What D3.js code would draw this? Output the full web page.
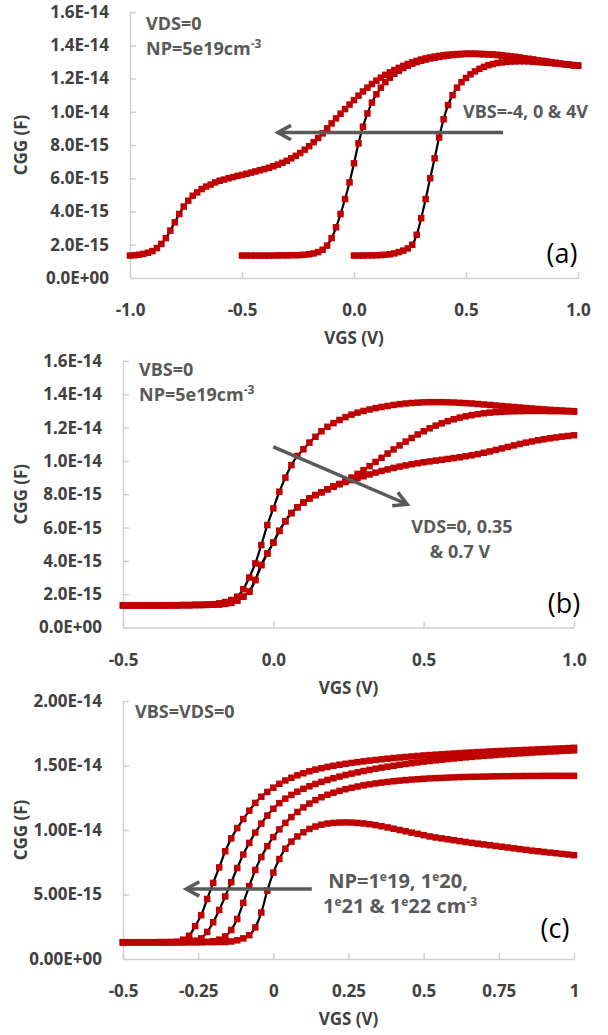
<!DOCTYPE html>
<html>
<head>
<meta charset="utf-8">
<script src="https://cdn.jsdelivr.net/npm/d3@7"></script>
<style>
  body { margin: 0; background: #fff; }
  text { font-family: "Open Sans", sans-serif; }
</style>
</head>
<body>
<svg id="chart"></svg>
<script>
// ---- data (CGG in fF, VGS in V) ----
const vgsA = [
  -1.00,-0.98,-0.96,-0.94,-0.92,-0.90,-0.88,-0.86,-0.84,-0.82,
  -0.80,-0.78,-0.76,-0.74,-0.72,-0.70,-0.68,-0.66,-0.64,-0.62,
  -0.60,-0.58,-0.56,-0.54,-0.52,-0.50,-0.48,-0.46,-0.44,-0.42,
  -0.40,-0.38,-0.36,-0.34,-0.32,-0.30,-0.28,-0.26,-0.24,-0.22,
  -0.20,-0.18,-0.16,-0.14,-0.12,-0.10,-0.08,-0.06,-0.04,-0.02,
  0.00,0.02,0.04,0.06,0.08,0.10,0.12,0.14,0.16,0.18,
  0.20,0.22,0.24,0.26,0.28,0.30,0.32,0.34,0.36,0.38,
  0.40,0.42,0.44,0.46,0.48,0.50,0.52,0.54,0.56,0.58,
  0.60,0.62,0.64,0.66,0.68,0.70,0.72,0.74,0.76,0.78,
  0.80,0.82,0.84,0.86,0.88,0.90,0.92,0.94,0.96,0.98,
  1.00];

const vgsBC = [
  -0.50,-0.48,-0.46,-0.44,-0.42,-0.40,-0.38,-0.36,-0.34,-0.32,
  -0.30,-0.28,-0.26,-0.24,-0.22,-0.20,-0.18,-0.16,-0.14,-0.12,
  -0.10,-0.08,-0.06,-0.04,-0.02,0.00,0.02,0.04,0.06,0.08,
  0.10,0.12,0.14,0.16,0.18,0.20,0.22,0.24,0.26,0.28,
  0.30,0.32,0.34,0.36,0.38,0.40,0.42,0.44,0.46,0.48,
  0.50,0.52,0.54,0.56,0.58,0.60,0.62,0.64,0.66,0.68,
  0.70,0.72,0.74,0.76,0.78,0.80,0.82,0.84,0.86,0.88,
  0.90,0.92,0.94,0.96,0.98,1.00];

// panel (a): VBS = 4, 0, -4 V (sweeps start at -1.0, -0.5 and 0.0 V)
const cggA1 = [
  1.35,1.37,1.40,1.45,1.52,1.62,1.80,2.05,2.40,2.85,
  3.35,3.85,4.30,4.65,4.95,5.15,5.35,5.50,5.62,5.75,
  5.85,5.92,6.00,6.07,6.14,6.20,6.27,6.34,6.41,6.48,
  6.55,6.63,6.72,6.82,6.93,7.05,7.20,7.35,7.52,7.72,
  7.93,8.17,8.42,8.70,9.00,9.30,9.60,9.88,10.16,10.43,
  10.70,10.97,11.22,11.45,11.67,11.87,12.05,12.22,12.37,12.51,
  12.64,12.76,12.87,12.97,13.06,13.14,13.21,13.27,13.32,13.36,
  13.40,13.43,13.45,13.47,13.48,13.49,13.49,13.49,13.48,13.47,
  13.46,13.44,13.42,13.39,13.36,13.33,13.30,13.26,13.22,13.18,
  13.14,13.10,13.06,13.02,12.98,12.94,12.90,12.86,12.83,12.80,
  12.77];
const cggA2 = [
  1.35,1.35,1.35,1.35,1.35,1.35,1.35,1.35,1.36,1.36,
  1.36,1.37,1.37,1.38,1.40,1.43,1.48,1.56,1.70,1.95,
  2.40,3.05,3.85,4.75,5.75,6.90,8.10,9.10,9.90,10.55,
  11.05,11.45,11.78,12.05,12.28,12.47,12.63,12.77,12.89,12.99,
  13.07,13.14,13.20,13.25,13.30,13.34,13.38,13.41,13.44,13.46,
  13.48,13.48,13.48,13.47,13.46,13.45,13.43,13.41,13.38,13.35,
  13.32,13.29,13.25,13.21,13.17,13.13,13.09,13.05,13.01,12.97,
  12.93,12.89,12.86,12.83,12.80,12.77];
const cggA3 = [
  1.35,1.35,1.35,1.36,1.36,1.37,1.38,1.40,1.43,1.48,
  1.56,1.65,1.78,2.00,2.60,3.60,4.75,6.00,7.20,8.45,
  9.55,10.40,11.00,11.45,11.78,12.03,12.25,12.43,12.58,12.70,
  12.80,12.87,12.93,12.97,13.00,13.02,13.03,13.04,13.04,13.03,
  13.01,12.99,12.97,12.95,12.93,12.91,12.88,12.86,12.83,12.80,
  12.77];

// panel (b): VDS = 0, 0.35, 0.7 V
const cggB0 = [
  1.33,1.33,1.33,1.33,1.33,1.33,1.33,1.33,1.34,1.34,
  1.35,1.35,1.36,1.37,1.38,1.40,1.45,1.53,1.65,1.85,
  2.30,3.00,3.85,4.95,6.15,7.15,8.15,9.00,9.75,10.30,
  10.70,11.10,11.45,11.78,12.05,12.27,12.46,12.63,12.78,12.90,
  13.00,13.09,13.17,13.24,13.30,13.36,13.41,13.45,13.48,13.50,
  13.52,13.53,13.53,13.53,13.52,13.51,13.49,13.47,13.45,13.42,
  13.39,13.36,13.33,13.30,13.27,13.24,13.21,13.18,13.15,13.12,
  13.10,13.07,13.05,13.03,13.01,12.99];
const cggB35 = [
  1.33,1.33,1.33,1.33,1.33,1.33,1.33,1.33,1.33,1.33,
  1.34,1.34,1.35,1.35,1.36,1.37,1.39,1.42,1.48,1.62,
  1.85,2.15,2.85,3.75,4.45,5.10,5.80,6.38,6.87,7.22,
  7.50,7.75,7.95,8.12,8.30,8.46,8.62,8.80,9.00,9.22,
  9.45,9.69,9.94,10.19,10.44,10.69,10.93,11.16,11.38,11.59,
  11.78,11.96,12.12,12.26,12.39,12.50,12.60,12.68,12.75,12.81,
  12.86,12.90,12.93,12.95,12.97,12.98,12.99,13.00,13.00,13.00,
  13.00,12.99,12.99,12.98,12.97,12.96];
const cggB70 = [
  1.33,1.33,1.33,1.33,1.33,1.33,1.33,1.33,1.33,1.33,
  1.34,1.34,1.35,1.35,1.36,1.37,1.39,1.42,1.48,1.62,
  1.85,2.15,2.85,3.75,4.45,5.10,5.80,6.38,6.87,7.22,
  7.50,7.75,7.95,8.12,8.30,8.46,8.60,8.73,8.85,8.97,
  9.08,9.19,9.30,9.40,9.49,9.58,9.66,9.73,9.80,9.86,
  9.92,9.97,10.02,10.07,10.12,10.17,10.22,10.28,10.34,10.41,
  10.49,10.57,10.66,10.75,10.84,10.93,11.02,11.10,11.17,11.24,
  11.30,11.36,11.41,11.46,11.50,11.54];

// panel (c): NP = 1e22, 1e21, 1e20, 1e19 cm-3
const cggC22 = [
  1.30,1.30,1.30,1.30,1.30,1.30,1.31,1.31,1.32,1.34,
  1.50,1.80,2.55,3.40,4.65,5.90,7.10,8.35,9.35,10.15,
  10.85,11.50,12.10,12.58,12.95,13.28,13.58,13.84,14.05,14.24,
  14.40,14.55,14.68,14.79,14.89,14.98,15.06,15.13,15.20,15.26,
  15.32,15.38,15.43,15.48,15.53,15.58,15.62,15.66,15.70,15.74,
  15.78,15.81,15.84,15.87,15.90,15.93,15.96,15.99,16.01,16.04,
  16.06,16.09,16.11,16.13,16.15,16.17,16.19,16.21,16.23,16.25,
  16.27,16.29,16.31,16.33,16.35,16.37];
const cggC21 = [
  1.30,1.30,1.30,1.30,1.30,1.30,1.30,1.30,1.30,1.31,
  1.32,1.35,1.42,1.60,2.10,2.85,3.80,4.85,5.95,7.05,
  8.10,9.00,9.80,10.50,11.12,11.65,12.08,12.43,12.72,12.97,
  13.19,13.39,13.57,13.73,13.88,14.01,14.14,14.26,14.37,14.47,
  14.57,14.66,14.75,14.83,14.91,14.98,15.05,15.12,15.18,15.24,
  15.30,15.35,15.40,15.45,15.50,15.54,15.59,15.63,15.67,15.71,
  15.75,15.78,15.82,15.85,15.88,15.91,15.94,15.97,16.00,16.03,
  16.05,16.08,16.10,16.13,16.15,16.17];
const cggC20 = [
  1.30,1.30,1.30,1.30,1.30,1.30,1.30,1.30,1.30,1.30,
  1.30,1.31,1.31,1.32,1.33,1.38,1.50,1.75,2.25,3.10,
  4.35,5.65,6.90,7.90,8.75,9.45,10.05,10.55,11.00,11.40,
  11.75,12.05,12.32,12.54,12.73,12.89,13.03,13.16,13.27,13.37,
  13.46,13.54,13.61,13.67,13.73,13.78,13.83,13.87,13.91,13.94,
  13.97,14.00,14.02,14.04,14.06,14.08,14.10,14.11,14.12,14.13,
  14.14,14.15,14.16,14.17,14.17,14.18,14.18,14.19,14.19,14.19,
  14.20,14.20,14.20,14.20,14.20,14.20];
const cggC19 = [
  1.30,1.30,1.30,1.30,1.30,1.30,1.30,1.30,1.30,1.30,
  1.30,1.30,1.30,1.30,1.31,1.31,1.32,1.32,1.36,1.45,
  1.60,1.85,2.45,3.60,5.30,6.70,7.75,8.55,9.10,9.50,
  9.82,10.08,10.27,10.41,10.50,10.55,10.58,10.59,10.58,10.55,
  10.51,10.45,10.38,10.29,10.20,10.10,10.00,9.90,9.80,9.70,
  9.60,9.50,9.42,9.35,9.28,9.21,9.14,9.07,9.00,8.94,
  8.88,8.82,8.76,8.70,8.64,8.58,8.52,8.46,8.40,8.35,
  8.30,8.25,8.20,8.15,8.10,8.05];

// ---- axis ticks and labels ----
const xTicksA = [-1, -0.5, 0, 0.5, 1];
const xLabelsA = ["-1.0", "-0.5", "0.0", "0.5", "1.0"];
const xTicksB = [-0.5, 0, 0.5, 1];
const xLabelsB = ["-0.5", "0.0", "0.5", "1.0"];
const xTicksC = [-0.5, -0.25, 0, 0.25, 0.5, 0.75, 1];
const xLabelsC = ["-0.5", "-0.25", "0", "0.25", "0.5", "0.75", "1"];
const yTicksAB = [0, 2, 4, 6, 8, 10, 12, 14, 16];
const yLabelsAB = ["0.0E+00", "2.0E-15", "4.0E-15", "6.0E-15", "8.0E-15",
                   "1.0E-14", "1.2E-14", "1.4E-14", "1.6E-14"];
const yTicksC = [0, 5, 10, 15, 20];
const yLabelsC = ["0.00E+00", "5.00E-15", "1.00E-14", "1.50E-14", "2.00E-14"];

const RED = "#C00000";
const GREY = "#595959";
const DARK = "#404040";
const AXIS = "#D0D0D0";
const MK = 6.5; // marker size

const svg = d3.select("#chart")
    .attr("width", 608)
    .attr("height", 1035);

function drawPanel(p) {
    const x = d3.scaleLinear().domain(p.xDomain).range([p.left, p.right]);
    const y = d3.scaleLinear().domain(p.yDomain).range([p.bottom, p.top]);

    const xAxis = svg.append("g")
        .attr("transform", `translate(0,${p.bottom})`)
        .call(d3.axisBottom(x)
            .tickValues(p.xTicks)
            .tickFormat((d, i) => p.xLabels[i])
            .tickSizeInner(-6).tickSizeOuter(0).tickPadding(26));

    const yAxis = svg.append("g")
        .attr("transform", `translate(${p.left},0)`)
        .call(d3.axisLeft(y)
            .tickValues(p.yTicks)
            .tickFormat((d, i) => p.yLabels[i])
            .tickSizeInner(-6).tickSizeOuter(0).tickPadding(21));

    [xAxis, yAxis].forEach(ax => {
        ax.select(".domain").attr("stroke", AXIS).attr("stroke-width", 1.5);
        ax.selectAll(".tick line").attr("stroke", AXIS).attr("stroke-width", 1.5);
        ax.selectAll(".tick text")
            .attr("font-family", "'Open Sans', sans-serif")
            .attr("font-size", 17)
            .attr("font-weight", "bold")
            .attr("fill", DARK);
    });

    svg.append("text")
        .attr("x", (p.left + p.right) / 2)
        .attr("y", p.bottom + 66)
        .attr("text-anchor", "middle")
        .attr("font-size", 17)
        .attr("font-weight", "bold")
        .attr("fill", DARK)
        .text("VGS (V)");

    svg.append("text")
        .attr("transform", `translate(27,${(p.top + p.bottom) / 2}) rotate(-90)`)
        .attr("text-anchor", "middle")
        .attr("font-size", 17)
        .attr("font-weight", "bold")
        .attr("fill", DARK)
        .text("CGG (F)");

    const line = d3.line()
        .x(d => x(d[0]))
        .y(d => y(d[1]))
        .curve(d3.curveMonotoneX);

    p.series.forEach(s => {
        const pts = s.cgg.map((c, i) => [s.vgs[i], c]);
        svg.append("path")
            .datum(pts)
            .attr("d", line)
            .attr("fill", "none")
            .attr("stroke", "#000")
            .attr("stroke-width", 2.2);
    });
    p.series.forEach(s => {
        const pts = s.cgg.map((c, i) => [s.vgs[i], c]);
        svg.append("g")
            .selectAll("rect")
            .data(pts)
            .join("rect")
            .attr("x", d => x(d[0]) - MK / 2)
            .attr("y", d => y(d[1]) - MK / 2)
            .attr("width", MK)
            .attr("height", MK)
            .attr("fill", RED);
    });

    svg.append("text")
        .attr("x", p.tagX)
        .attr("y", p.tagY)
        .attr("text-anchor", "middle")
        .attr("dominant-baseline", "central")
        .attr("font-size", 27)
        .attr("fill", "#000")
        .text(p.tag);

    return { x, y };
}

function arrow(from, to) {
    const ang = Math.atan2(to[1] - from[1], to[0] - from[0]);
    const L = 15, spread = 0.5;
    const a1 = [to[0] - L * Math.cos(ang - spread), to[1] - L * Math.sin(ang - spread)];
    const a2 = [to[0] - L * Math.cos(ang + spread), to[1] - L * Math.sin(ang + spread)];
    svg.append("line")
        .attr("x1", from[0]).attr("y1", from[1])
        .attr("x2", to[0]).attr("y2", to[1])
        .attr("stroke", GREY).attr("stroke-width", 3.5);
    svg.append("path")
        .attr("d", `M${a1[0]},${a1[1]}L${to[0]},${to[1]}L${a2[0]},${a2[1]}`)
        .attr("fill", "none")
        .attr("stroke", GREY)
        .attr("stroke-width", 3.5);
}

function note(xp, yp, parts, anchor, size) {
    const t = svg.append("text")
        .attr("x", xp).attr("y", yp)
        .attr("text-anchor", anchor || "start")
        .attr("font-size", size || 18)
        .attr("font-weight", "bold")
        .attr("fill", GREY);
    let raised = false;
    parts.forEach(pt => {
        if (typeof pt === "string") {
            t.append("tspan").attr("dy", raised ? 7 : 0).text(pt);
            raised = false;
        } else {
            t.append("tspan").attr("dy", -7).attr("font-size", 12).text(pt.sup);
            raised = true;
        }
    });
}

// ---- (a) ----
const pa = drawPanel({
    xDomain: [-1, 1], yDomain: [0, 16],
    left: 130, right: 578, top: 12, bottom: 278,
    xTicks: xTicksA, xLabels: xLabelsA, yTicks: yTicksAB, yLabels: yLabelsAB,
    series: [
        { vgs: vgsA, cgg: cggA1 },
        { vgs: vgsA.slice(25), cgg: cggA2 },
        { vgs: vgsA.slice(50), cgg: cggA3 }
    ],
    tag: "(a)", tagX: 562, tagY: 252
});
note(146, 30, ["VDS=0"]);
note(146, 55, ["NP=5e19cm", { sup: "-3" }]);
arrow([pa.x(0.665), pa.y(8.75)], [pa.x(-0.34), pa.y(8.75)]);
note(463, 118, ["VBS=-4, 0 & 4V"]);

// ---- (b) ----
const pb = drawPanel({
    xDomain: [-0.5, 1], yDomain: [0, 16],
    left: 123, right: 574, top: 361, bottom: 627.5,
    xTicks: xTicksB, xLabels: xLabelsB, yTicks: yTicksAB, yLabels: yLabelsAB,
    series: [
        { vgs: vgsBC, cgg: cggB0 },
        { vgs: vgsBC, cgg: cggB35 },
        { vgs: vgsBC, cgg: cggB70 }
    ],
    tag: "(b)", tagX: 564, tagY: 602
});
note(139, 376, ["VBS=0"]);
note(139, 401, ["NP=5e19cm", { sup: "-3" }]);
arrow([pb.x(0.0), pb.y(10.85)], [pb.x(0.445), pb.y(7.4)]);
note(462, 533, ["VDS=0, 0.35"], "middle");
note(460, 558, ["& 0.7 V"], "middle");

// ---- (c) ----
const pc = drawPanel({
    xDomain: [-0.5, 1], yDomain: [0, 20],
    left: 123, right: 574, top: 701, bottom: 959,
    xTicks: xTicksC, xLabels: xLabelsC, yTicks: yTicksC, yLabels: yLabelsC,
    series: [
        { vgs: vgsBC, cgg: cggC22 },
        { vgs: vgsBC, cgg: cggC21 },
        { vgs: vgsBC, cgg: cggC20 },
        { vgs: vgsBC, cgg: cggC19 }
    ],
    tag: "(c)", tagX: 555, tagY: 927
});
note(135, 718, ["VBS=VDS=0"]);
arrow([pc.x(0.128), pc.y(5.43)], [pc.x(-0.29), pc.y(5.43)]);
note(398, 888, ["NP=1", { sup: "e" }, "19, 1", { sup: "e" }, "20,"], "middle", 20);
note(400, 913, ["1", { sup: "e" }, "21 & 1", { sup: "e" }, "22 cm", { sup: "-3" }], "middle", 20);
</script>
</body>
</html>
